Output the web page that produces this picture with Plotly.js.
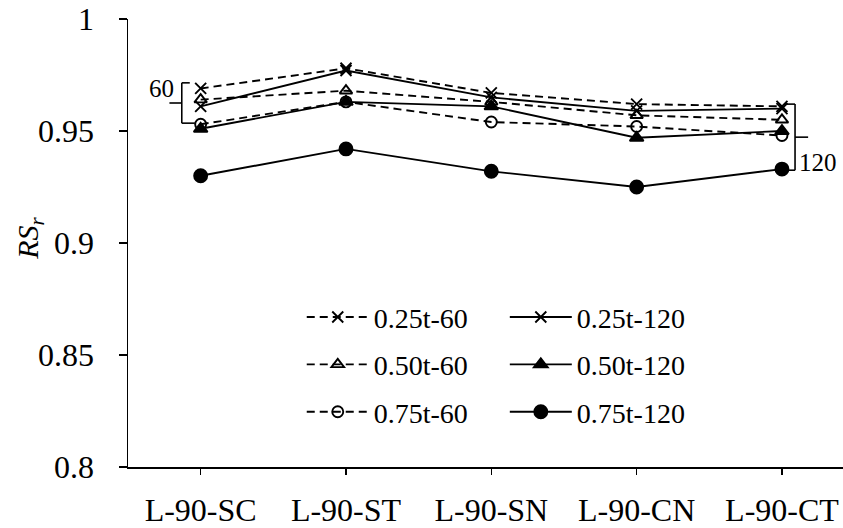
<!DOCTYPE html>
<html>
<head>
<meta charset="utf-8">
<script src="https://cdn.plot.ly/plotly-3.0.1.min.js"></script>
<style>
  html, body { margin: 0; padding: 0; background: #fff; }
  #chart { width: 843px; height: 528px; }
</style>
</head>
<body>
<div id="chart"></div>
<script>
// Specimen layouts along the x axis
const categories = ['L-90-SC', 'L-90-ST', 'L-90-SN', 'L-90-CN', 'L-90-CT'];

// RS_r for each load position (0.25t / 0.50t / 0.75t) and span (60 / 120)
const rs025t60  = [0.969, 0.978, 0.967, 0.962, 0.961];
const rs025t120 = [0.961, 0.977, 0.965, 0.959, 0.960];
const rs050t60  = [0.964, 0.968, 0.963, 0.957, 0.955];
const rs050t120 = [0.951, 0.963, 0.961, 0.947, 0.950];
const rs075t60  = [0.953, 0.963, 0.954, 0.952, 0.948];
const rs075t120 = [0.930, 0.942, 0.932, 0.925, 0.933];

const seriesNames = ['0.25t-60', '0.50t-60', '0.75t-60', '0.25t-120', '0.50t-120', '0.75t-120'];

const FONT = 'Liberation Serif, Times New Roman, serif';
const INK = '#000';

function series(name, y, dashed, symbol, size, legend) {
  return {
    type: 'scatter',
    mode: 'lines+markers',
    name: name,
    x: categories,
    y: y,
    legend: legend,
    legendgroup: name,
    line: { color: INK, width: 1.9, dash: dashed ? '8px,5px' : 'solid' },
    marker: {
      symbol: symbol,
      size: size,
      color: INK,
      line: { color: INK, width: 1.9 }
    },
    cliponaxis: false
  };
}

const traces = [
  series(seriesNames[0], rs025t60,  true,  'x-thin-open',       11, 'legend'),
  series(seriesNames[1], rs050t60,  true,  'triangle-up-open',  11, 'legend'),
  series(seriesNames[2], rs075t60,  true,  'circle-open',       11, 'legend'),
  series(seriesNames[3], rs025t120, false, 'x-thin-open',       11, 'legend2'),
  series(seriesNames[4], rs050t120, false, 'triangle-up',       12, 'legend2'),
  series(seriesNames[5], rs075t120, false, 'circle',            13, 'legend2')
];

// Brace marking the 60 group at the first specimen and the 120 group at the last
const first = 0, last = categories.length - 1;
const top60 = Math.max(rs025t60[first], rs050t60[first], rs075t60[first]) + 0.0025;
const bot60 = Math.min(rs025t60[first], rs050t60[first], rs075t60[first]) + 0.0005;
const mid60 = (top60 + bot60) / 2;
const top120 = Math.max(rs025t120[last], rs050t120[last], rs075t120[last]) + 0.002;
const bot120 = Math.min(rs025t120[last], rs050t120[last], rs075t120[last]) - 0.0005;
const mid120 = (top120 + bot120) / 2;

function seg(x0, y0, x1, y1) {
  return { type: 'line', xref: 'x', yref: 'y', x0: x0, y0: y0, x1: x1, y1: y1,
           line: { color: INK, width: 1.6 } };
}

const shapes = [
  // left brace (60)
  seg(first - 0.13, top60, first - 0.13, bot60),
  seg(first - 0.13, top60, first - 0.075, top60),
  seg(first - 0.13, bot60, first - 0.04, bot60),
  seg(first - 0.215, mid60, first - 0.13, mid60),
  // right brace (120)
  seg(last + 0.09, top120, last + 0.09, bot120),
  seg(last + 0.09, top120, last + 0.015, top120),
  seg(last + 0.09, bot120, last + 0.02, bot120),
  seg(last + 0.09, mid120, last + 0.18, mid120)
];

const annotations = [
  { xref: 'x', yref: 'y', x: first - 0.17, y: top60 - 0.0025, text: '60',
    showarrow: false, xanchor: 'right', yanchor: 'middle',
    font: { family: FONT, size: 25, color: INK } },
  { xref: 'x', yref: 'y', x: last + 0.1, y: bot120 + 0.0033, text: '120',
    showarrow: false, xanchor: 'left', yanchor: 'middle',
    font: { family: FONT, size: 25, color: INK } },
  // y-axis title, set vertically beside the tick labels
  { xref: 'paper', yref: 'paper', x: -0.138, y: 0.51, text: '<i>RS<sub>r</sub></i>',
    showarrow: false, textangle: -90, xanchor: 'center', yanchor: 'middle',
    font: { family: FONT, size: 30, color: INK } }
];

const legendCommon = {
  orientation: 'v',
  xanchor: 'left',
  yanchor: 'top',
  bgcolor: 'rgba(0,0,0,0)',
  borderwidth: 0,
  itemwidth: 62,
  tracegroupgap: 8,
  font: { family: FONT, size: 28, color: INK },
  itemclick: false,
  itemdoubleclick: false
};

const layout = {
  width: 843,
  height: 528,
  margin: { l: 128, r: 0, t: 19, b: 61, pad: 0 },
  paper_bgcolor: '#fff',
  plot_bgcolor: '#fff',
  font: { family: FONT, color: INK },
  showlegend: true,
  legend: Object.assign({}, legendCommon, { x: 0.243, y: 0.39 }),
  legend2: Object.assign({}, legendCommon, { x: 0.527, y: 0.39 }),
  xaxis: {
    type: 'category',
    range: [-0.5, 4.42],
    showgrid: false,
    zeroline: false,
    showline: true,
    linecolor: INK,
    linewidth: 1.5,
    ticks: 'outside',
    ticklen: 6,
    tickwidth: 1.5,
    tickcolor: INK,
    ticklabelstandoff: 8,
    tickfont: { family: FONT, size: 32, color: INK }
  },
  yaxis: {
    range: [0.8, 1],
    dtick: 0.05,
    tick0: 0.8,
    showgrid: false,
    zeroline: false,
    showline: true,
    linecolor: INK,
    linewidth: 1.5,
    ticks: 'outside',
    ticklen: 8,
    tickwidth: 1.5,
    tickcolor: INK,
    ticklabelstandoff: 18,
    tickfont: { family: FONT, size: 32, color: INK }
  },
  shapes: shapes,
  annotations: annotations
};

Plotly.newPlot('chart', traces, layout, { displayModeBar: false, staticPlot: true });
</script>
</body>
</html>
